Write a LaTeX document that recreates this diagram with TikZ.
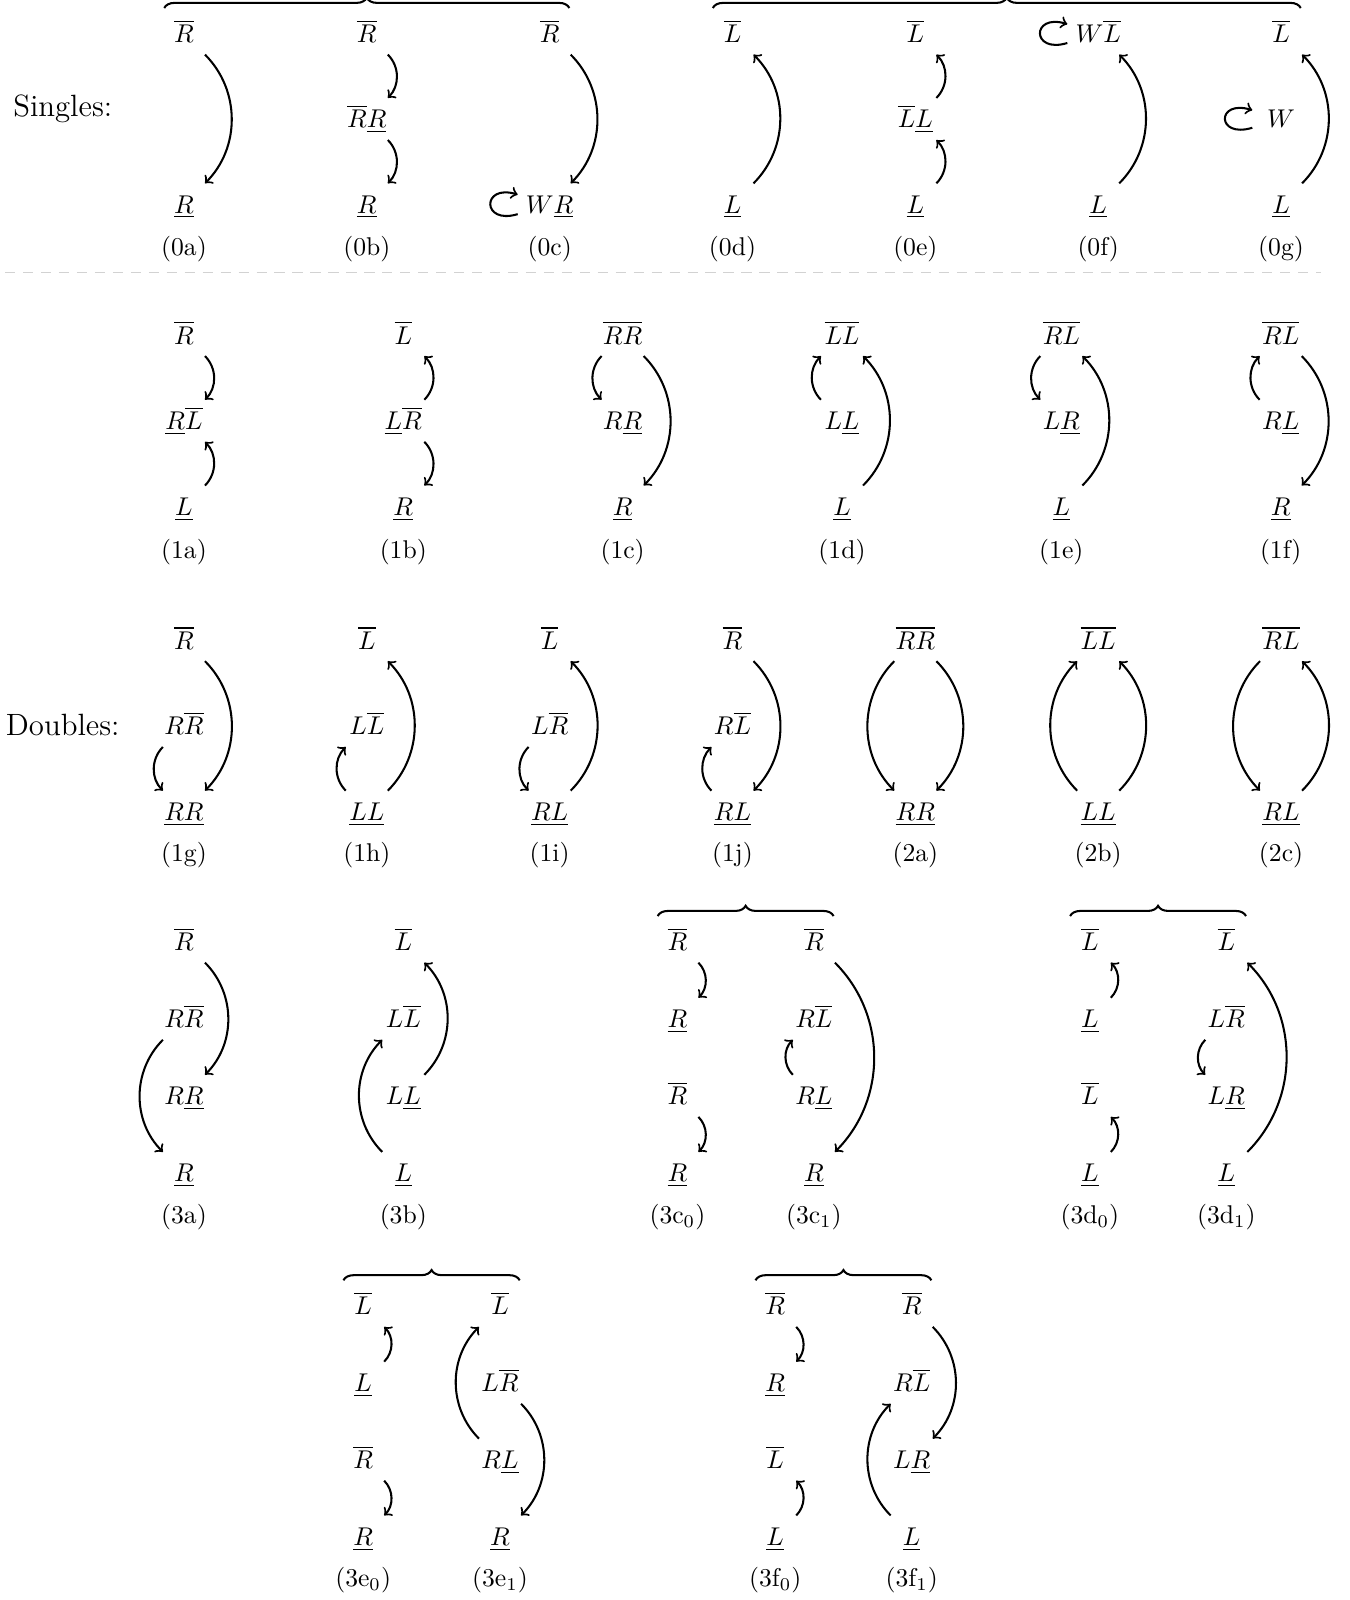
\documentclass[tikz,border=0pt]{standalone}
\usetikzlibrary{decorations.pathreplacing}

\begin{document}
\begin{tikzpicture}[x=1cm, y=-1cm, >=to, bend angle=45,
  sym/.style={minimum size=16pt, inner sep=3pt, text height=7pt, text depth=0pt},
  arr/.style={->, thick},
  selfloop/.style={->, thick, out=197, in=163, distance=5.2mm},
  brc/.style={thick, decorate, decoration={brace, amplitude=4pt}},
  divider/.style={gray!35, dash pattern=on 4pt off 3pt}]
  \useasboundingbox (0,0) rectangle (18.49,21.92);

  % Side titles
  \node[font=\large] (singles) at (0.86,1.49) {Singles:};
  \node[font=\large] (doubles) at (0.86,9.93) {Doubles:};

  % Singles
  \node[sym] (d0a-1) at (2.52,0.46) {$\overline{R}$};
  \node[sym] (d0a-3) at (2.52,2.80) {$\underline{R}$};
  \node[sym] (d0b-1) at (5.025,0.46) {$\overline{R}$};
  \node[sym] (d0b-2) at (5.025,1.63) {$\overline{R}\underline{R}$};
  \node[sym] (d0b-3) at (5.025,2.80) {$\underline{R}$};
  \node[sym] (d0c-1) at (7.53,0.46) {$\overline{R}$};
  \node[sym] (d0c-3) at (7.53,2.80) {$W\underline{R}$};
  \node[sym] (d0d-1) at (10.035,0.46) {$\overline{L}$};
  \node[sym] (d0d-3) at (10.035,2.80) {$\underline{L}$};
  \node[sym] (d0e-1) at (12.54,0.46) {$\overline{L}$};
  \node[sym] (d0e-2) at (12.54,1.63) {$\overline{L}\underline{L}$};
  \node[sym] (d0e-3) at (12.54,2.80) {$\underline{L}$};
  \node[sym] (d0f-1) at (15.045,0.46) {$W\overline{L}$};
  \node[sym] (d0f-3) at (15.045,2.80) {$\underline{L}$};
  \node[sym] (d0g-1) at (17.55,0.46) {$\overline{L}$};
  \node[sym, minimum width=22pt] (d0g-2) at (17.55,1.63) {$W$};
  \node[sym] (d0g-3) at (17.55,2.80) {$\underline{L}$};

  \draw[arr] (d0a-1) to[bend left] (d0a-3);
  \draw[arr] (d0b-1) to[bend left] (d0b-2);
  \draw[arr] (d0b-2) to[bend left] (d0b-3);
  \draw[arr] (d0c-1) to[bend left] (d0c-3);
  \draw[selfloop] (d0c-3) to (d0c-3);
  \draw[arr] (d0d-3) to[bend right] (d0d-1);
  \draw[arr] (d0e-3) to[bend right] (d0e-2);
  \draw[arr] (d0e-2) to[bend right] (d0e-1);
  \draw[arr] (d0f-3) to[bend right] (d0f-1);
  \draw[selfloop] (d0f-1) to (d0f-1);
  \draw[arr] (d0g-3) to[bend right] (d0g-1);
  \draw[selfloop] (d0g-2) to (d0g-2);

  \draw[brc] ([shift={(-0.27,-0.35)}]d0a-1.center) -- ([shift={(0.27,-0.35)}]d0c-1.center);
  \draw[brc] ([shift={(-0.27,-0.35)}]d0d-1.center) -- ([shift={(0.27,-0.35)}]d0g-1.center);

  \foreach \t/\x in {0a/2.52, 0b/5.025, 0c/7.53, 0d/10.035, 0e/12.54, 0f/15.045, 0g/17.55}
    \node (t\t) at (\x,3.41) {(\t)};

  \draw[divider] (0.07,3.73) -- (18.10,3.73);

  % Doubles, first row
  \node[sym] (d1a-1) at (2.52,4.59) {$\overline{R}$};
  \node[sym] (d1a-2) at (2.52,5.765) {$\underline{R}\overline{L}$};
  \node[sym] (d1a-3) at (2.52,6.94) {$\underline{L}$};
  \node[sym] (d1b-1) at (5.525,4.59) {$\overline{L}$};
  \node[sym] (d1b-2) at (5.525,5.765) {$\underline{L}\overline{R}$};
  \node[sym] (d1b-3) at (5.525,6.94) {$\underline{R}$};
  \node[sym] (d1c-1) at (8.53,4.59) {$\overline{RR}$};
  \node[sym] (d1c-2) at (8.53,5.765) {$R\underline{R}$};
  \node[sym] (d1c-3) at (8.53,6.94) {$\underline{R}$};
  \node[sym] (d1d-1) at (11.535,4.59) {$\overline{LL}$};
  \node[sym] (d1d-2) at (11.535,5.765) {$L\underline{L}$};
  \node[sym] (d1d-3) at (11.535,6.94) {$\underline{L}$};
  \node[sym] (d1e-1) at (14.54,4.59) {$\overline{RL}$};
  \node[sym] (d1e-2) at (14.54,5.765) {$L\underline{R}$};
  \node[sym] (d1e-3) at (14.54,6.94) {$\underline{L}$};
  \node[sym] (d1f-1) at (17.545,4.59) {$\overline{RL}$};
  \node[sym] (d1f-2) at (17.545,5.765) {$R\underline{L}$};
  \node[sym] (d1f-3) at (17.545,6.94) {$\underline{R}$};

  \draw[arr] (d1a-1) to[bend left] (d1a-2);
  \draw[arr] (d1a-3) to[bend right] (d1a-2);
  \draw[arr] (d1b-2) to[bend right] (d1b-1);
  \draw[arr] (d1b-2) to[bend left] (d1b-3);
  \draw[arr] (d1c-1) to[bend right] (d1c-2);
  \draw[arr] (d1c-1) to[bend left] (d1c-3);
  \draw[arr] (d1d-2) to[bend left] (d1d-1);
  \draw[arr] (d1d-3) to[bend right] (d1d-1);
  \draw[arr] (d1e-1) to[bend right] (d1e-2);
  \draw[arr] (d1e-3) to[bend right] (d1e-1);
  \draw[arr] (d1f-2) to[bend left] (d1f-1);
  \draw[arr] (d1f-1) to[bend left] (d1f-3);

  \foreach \t/\x in {1a/2.52, 1b/5.525, 1c/8.53, 1d/11.535, 1e/14.54, 1f/17.545}
    \node (t\t) at (\x,7.57) {(\t)};

  % Doubles, second row
  \node[sym] (d1g-1) at (2.52,8.77) {$\overline{R}$};
  \node[sym] (d1g-2) at (2.52,9.945) {$R\overline{R}$};
  \node[sym] (d1g-3) at (2.52,11.12) {$\underline{RR}$};
  \node[sym] (d1h-1) at (5.025,8.77) {$\overline{L}$};
  \node[sym] (d1h-2) at (5.025,9.945) {$L\overline{L}$};
  \node[sym] (d1h-3) at (5.025,11.12) {$\underline{LL}$};
  \node[sym] (d1i-1) at (7.53,8.77) {$\overline{L}$};
  \node[sym] (d1i-2) at (7.53,9.945) {$L\overline{R}$};
  \node[sym] (d1i-3) at (7.53,11.12) {$\underline{RL}$};
  \node[sym] (d1j-1) at (10.035,8.77) {$\overline{R}$};
  \node[sym] (d1j-2) at (10.035,9.945) {$R\overline{L}$};
  \node[sym] (d1j-3) at (10.035,11.12) {$\underline{RL}$};
  \node[sym] (d2a-1) at (12.54,8.77) {$\overline{RR}$};
  \node[sym] (d2a-2) at (12.54,11.12) {$\underline{RR}$};
  \node[sym] (d2b-1) at (15.045,8.77) {$\overline{LL}$};
  \node[sym] (d2b-2) at (15.045,11.12) {$\underline{LL}$};
  \node[sym] (d2c-1) at (17.55,8.77) {$\overline{RL}$};
  \node[sym] (d2c-2) at (17.55,11.12) {$\underline{RL}$};

  \draw[arr] (d1g-1) to[bend left] (d1g-3);
  \draw[arr] (d1g-2) to[bend right] (d1g-3);
  \draw[arr] (d1h-3) to[bend right] (d1h-1);
  \draw[arr] (d1h-3) to[bend left] (d1h-2);
  \draw[arr] (d1i-3) to[bend right] (d1i-1);
  \draw[arr] (d1i-2) to[bend right] (d1i-3);
  \draw[arr] (d1j-1) to[bend left] (d1j-3);
  \draw[arr] (d1j-3) to[bend left] (d1j-2);
  \draw[arr] (d2a-1) to[bend right] (d2a-2);
  \draw[arr] (d2a-1) to[bend left] (d2a-2);
  \draw[arr] (d2b-2) to[bend left] (d2b-1);
  \draw[arr] (d2b-2) to[bend right] (d2b-1);
  \draw[arr] (d2c-1) to[bend right] (d2c-2);
  \draw[arr] (d2c-2) to[bend right] (d2c-1);

  \foreach \t/\x in {1g/2.52, 1h/5.025, 1i/7.53, 1j/10.035, 2a/12.54, 2b/15.045, 2c/17.55}
    \node (t\t) at (\x,11.71) {(\t)};

  % Triples, first row
  \node[sym] (d3a-1) at (2.52,12.90) {$\overline{R}$};
  \node[sym] (d3a-2) at (2.52,13.957) {$R\overline{R}$};
  \node[sym] (d3a-3) at (2.52,15.013) {$R\underline{R}$};
  \node[sym] (d3a-4) at (2.52,16.07) {$\underline{R}$};
  \node[sym] (d3b-1) at (5.525,12.90) {$\overline{L}$};
  \node[sym] (d3b-2) at (5.525,13.957) {$L\overline{L}$};
  \node[sym] (d3b-3) at (5.525,15.013) {$L\underline{L}$};
  \node[sym] (d3b-4) at (5.525,16.07) {$\underline{L}$};
  \node[sym] (d3c0-1) at (9.28,12.90) {$\overline{R}$};
  \node[sym] (d3c0-2) at (9.28,13.957) {$\underline{R}$};
  \node[sym] (d3c0-3) at (9.28,15.013) {$\overline{R}$};
  \node[sym] (d3c0-4) at (9.28,16.07) {$\underline{R}$};
  \node[sym] (d3c1-1) at (11.15,12.90) {$\overline{R}$};
  \node[sym] (d3c1-2) at (11.15,13.957) {$R\overline{L}$};
  \node[sym] (d3c1-3) at (11.15,15.013) {$R\underline{L}$};
  \node[sym] (d3c1-4) at (11.15,16.07) {$\underline{R}$};
  \node[sym] (d3d0-1) at (14.93,12.90) {$\overline{L}$};
  \node[sym] (d3d0-2) at (14.93,13.957) {$\underline{L}$};
  \node[sym] (d3d0-3) at (14.93,15.013) {$\overline{L}$};
  \node[sym] (d3d0-4) at (14.93,16.07) {$\underline{L}$};
  \node[sym] (d3d1-1) at (16.80,12.90) {$\overline{L}$};
  \node[sym] (d3d1-2) at (16.80,13.957) {$L\overline{R}$};
  \node[sym] (d3d1-3) at (16.80,15.013) {$L\underline{R}$};
  \node[sym] (d3d1-4) at (16.80,16.07) {$\underline{L}$};

  \draw[arr] (d3a-1) to[bend left] (d3a-3);
  \draw[arr] (d3a-2) to[bend right] (d3a-4);
  \draw[arr] (d3b-4) to[bend left] (d3b-2);
  \draw[arr] (d3b-3) to[bend right] (d3b-1);
  \draw[arr] (d3c0-1) to[bend left] (d3c0-2);
  \draw[arr] (d3c0-3) to[bend left] (d3c0-4);
  \draw[arr] (d3c1-1) to[bend left] (d3c1-4);
  \draw[arr] (d3c1-3) to[bend left] (d3c1-2);
  \draw[arr] (d3d0-2) to[bend right] (d3d0-1);
  \draw[arr] (d3d0-4) to[bend right] (d3d0-3);
  \draw[arr] (d3d1-4) to[bend right] (d3d1-1);
  \draw[arr] (d3d1-2) to[bend right] (d3d1-3);

  \draw[brc] ([shift={(-0.27,-0.35)}]d3c0-1.center) -- ([shift={(0.27,-0.35)}]d3c1-1.center);
  \draw[brc] ([shift={(-0.27,-0.35)}]d3d0-1.center) -- ([shift={(0.27,-0.35)}]d3d1-1.center);

  \foreach \n/\t/\x in {3a/3a/2.52, 3b/3b/5.525, 3c0/3c$_0$/9.28, 3c1/3c$_1$/11.15,
                        3d0/3d$_0$/14.93, 3d1/3d$_1$/16.80}
    \node (t\n) at (\x,16.68) {(\t)};

  % Triples, second row
  \node[sym] (d3e0-1) at (4.975,17.89) {$\overline{L}$};
  \node[sym] (d3e0-2) at (4.975,18.943) {$\underline{L}$};
  \node[sym] (d3e0-3) at (4.975,19.997) {$\overline{R}$};
  \node[sym] (d3e0-4) at (4.975,21.05) {$\underline{R}$};
  \node[sym] (d3e1-1) at (6.85,17.89) {$\overline{L}$};
  \node[sym] (d3e1-2) at (6.85,18.943) {$L\overline{R}$};
  \node[sym] (d3e1-3) at (6.85,19.997) {$R\underline{L}$};
  \node[sym] (d3e1-4) at (6.85,21.05) {$\underline{R}$};
  \node[sym] (d3f0-1) at (10.62,17.89) {$\overline{R}$};
  \node[sym] (d3f0-2) at (10.62,18.943) {$\underline{R}$};
  \node[sym] (d3f0-3) at (10.62,19.997) {$\overline{L}$};
  \node[sym] (d3f0-4) at (10.62,21.05) {$\underline{L}$};
  \node[sym] (d3f1-1) at (12.49,17.89) {$\overline{R}$};
  \node[sym] (d3f1-2) at (12.49,18.943) {$R\overline{L}$};
  \node[sym] (d3f1-3) at (12.49,19.997) {$L\underline{R}$};
  \node[sym] (d3f1-4) at (12.49,21.05) {$\underline{L}$};

  \draw[arr] (d3e0-2) to[bend right] (d3e0-1);
  \draw[arr] (d3e0-3) to[bend left] (d3e0-4);
  \draw[arr] (d3e1-3) to[bend left] (d3e1-1);
  \draw[arr] (d3e1-2) to[bend left] (d3e1-4);
  \draw[arr] (d3f0-1) to[bend left] (d3f0-2);
  \draw[arr] (d3f0-4) to[bend right] (d3f0-3);
  \draw[arr] (d3f1-1) to[bend left] (d3f1-3);
  \draw[arr] (d3f1-4) to[bend left] (d3f1-2);

  \draw[brc] ([shift={(-0.27,-0.35)}]d3e0-1.center) -- ([shift={(0.27,-0.35)}]d3e1-1.center);
  \draw[brc] ([shift={(-0.27,-0.35)}]d3f0-1.center) -- ([shift={(0.27,-0.35)}]d3f1-1.center);

  \foreach \n/\t/\x in {3e0/3e$_0$/4.975, 3e1/3e$_1$/6.85, 3f0/3f$_0$/10.62, 3f1/3f$_1$/12.49}
    \node (t\n) at (\x,21.65) {(\t)};
\end{tikzpicture}
\end{document}
